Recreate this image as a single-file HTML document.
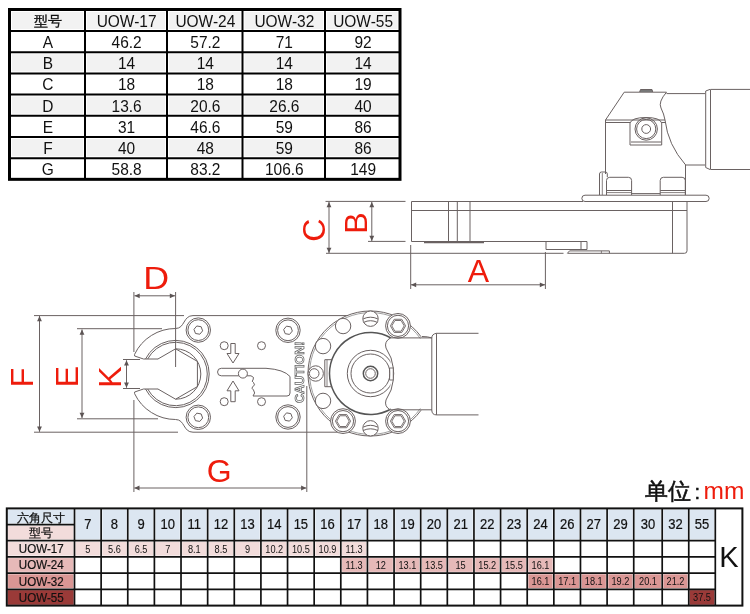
<!DOCTYPE html>
<html><head><meta charset="utf-8"><style>
html,body{margin:0;padding:0;background:#fff;width:750px;height:614px;overflow:hidden}
svg{display:block;will-change:transform}
text{font-family:"Liberation Sans", sans-serif}
</style></head><body>
<svg width="750" height="614" viewBox="0 0 750 614" fill="#111">
<rect width="750" height="614" fill="#fff"/>
<rect x="12.0" y="12.0" width="385.5" height="17.0" fill="#f2f2f2"/>
<rect x="12.0" y="54.19" width="385.5" height="17.189999999999998" fill="#f2f2f2"/>
<rect x="12.0" y="96.57000000000001" width="385.5" height="17.189999999999998" fill="#f2f2f2"/>
<rect x="12.0" y="138.95" width="385.5" height="17.190000000000026" fill="#f2f2f2"/>
<rect x="83" y="9.5" width="4" height="169.83" fill="#fff"/>
<rect x="165" y="9.5" width="4" height="169.83" fill="#fff"/>
<rect x="240.5" y="9.5" width="4" height="169.83" fill="#fff"/>
<rect x="323" y="9.5" width="4" height="169.83" fill="#fff"/>
<line x1="9.5" y1="31.00" x2="400" y2="31.00" stroke="#000" stroke-width="2"/>
<line x1="9.5" y1="52.19" x2="400" y2="52.19" stroke="#000" stroke-width="2"/>
<line x1="9.5" y1="73.38" x2="400" y2="73.38" stroke="#000" stroke-width="2"/>
<line x1="9.5" y1="94.57" x2="400" y2="94.57" stroke="#000" stroke-width="2"/>
<line x1="9.5" y1="115.76" x2="400" y2="115.76" stroke="#000" stroke-width="2"/>
<line x1="9.5" y1="136.95" x2="400" y2="136.95" stroke="#000" stroke-width="2"/>
<line x1="9.5" y1="158.14" x2="400" y2="158.14" stroke="#000" stroke-width="2"/>
<line x1="85" y1="9.5" x2="85" y2="179.33" stroke="#000" stroke-width="2"/>
<line x1="167" y1="9.5" x2="167" y2="179.33" stroke="#000" stroke-width="2"/>
<line x1="242.5" y1="9.5" x2="242.5" y2="179.33" stroke="#000" stroke-width="2"/>
<line x1="325" y1="9.5" x2="325" y2="179.33" stroke="#000" stroke-width="2"/>
<rect x="9.5" y="9.5" width="390.5" height="169.83" fill="none" stroke="#000" stroke-width="3"/>
<text x="48.05" y="26.2" font-size="14.3" text-anchor="middle" stroke="#111" stroke-width="0.35">型号</text>
<text x="0" y="0" font-size="15.5" text-anchor="middle" transform="translate(126.60,26.75) scale(1,1.12)">UOW-17</text>
<text x="0" y="0" font-size="15.5" text-anchor="middle" transform="translate(205.35,26.75) scale(1,1.12)">UOW-24</text>
<text x="0" y="0" font-size="15.5" text-anchor="middle" transform="translate(284.35,26.75) scale(1,1.12)">UOW-32</text>
<text x="0" y="0" font-size="15.5" text-anchor="middle" transform="translate(363.10,26.75) scale(1,1.12)">UOW-55</text>
<text x="0" y="0" font-size="15.5" text-anchor="middle" transform="translate(47.85,48.09) scale(1,1.12)">A</text>
<text x="0" y="0" font-size="15.5" text-anchor="middle" transform="translate(126.60,48.09) scale(1,1.12)">46.2</text>
<text x="0" y="0" font-size="15.5" text-anchor="middle" transform="translate(205.35,48.09) scale(1,1.12)">57.2</text>
<text x="0" y="0" font-size="15.5" text-anchor="middle" transform="translate(284.35,48.09) scale(1,1.12)">71</text>
<text x="0" y="0" font-size="15.5" text-anchor="middle" transform="translate(363.10,48.09) scale(1,1.12)">92</text>
<text x="0" y="0" font-size="15.5" text-anchor="middle" transform="translate(47.85,69.28) scale(1,1.12)">B</text>
<text x="0" y="0" font-size="15.5" text-anchor="middle" transform="translate(126.60,69.28) scale(1,1.12)">14</text>
<text x="0" y="0" font-size="15.5" text-anchor="middle" transform="translate(205.35,69.28) scale(1,1.12)">14</text>
<text x="0" y="0" font-size="15.5" text-anchor="middle" transform="translate(284.35,69.28) scale(1,1.12)">14</text>
<text x="0" y="0" font-size="15.5" text-anchor="middle" transform="translate(363.10,69.28) scale(1,1.12)">14</text>
<text x="0" y="0" font-size="15.5" text-anchor="middle" transform="translate(47.85,90.47) scale(1,1.12)">C</text>
<text x="0" y="0" font-size="15.5" text-anchor="middle" transform="translate(126.60,90.47) scale(1,1.12)">18</text>
<text x="0" y="0" font-size="15.5" text-anchor="middle" transform="translate(205.35,90.47) scale(1,1.12)">18</text>
<text x="0" y="0" font-size="15.5" text-anchor="middle" transform="translate(284.35,90.47) scale(1,1.12)">18</text>
<text x="0" y="0" font-size="15.5" text-anchor="middle" transform="translate(363.10,90.47) scale(1,1.12)">19</text>
<text x="0" y="0" font-size="15.5" text-anchor="middle" transform="translate(47.85,111.67) scale(1,1.12)">D</text>
<text x="0" y="0" font-size="15.5" text-anchor="middle" transform="translate(126.60,111.67) scale(1,1.12)">13.6</text>
<text x="0" y="0" font-size="15.5" text-anchor="middle" transform="translate(205.35,111.67) scale(1,1.12)">20.6</text>
<text x="0" y="0" font-size="15.5" text-anchor="middle" transform="translate(284.35,111.67) scale(1,1.12)">26.6</text>
<text x="0" y="0" font-size="15.5" text-anchor="middle" transform="translate(363.10,111.67) scale(1,1.12)">40</text>
<text x="0" y="0" font-size="15.5" text-anchor="middle" transform="translate(47.85,132.85) scale(1,1.12)">E</text>
<text x="0" y="0" font-size="15.5" text-anchor="middle" transform="translate(126.60,132.85) scale(1,1.12)">31</text>
<text x="0" y="0" font-size="15.5" text-anchor="middle" transform="translate(205.35,132.85) scale(1,1.12)">46.6</text>
<text x="0" y="0" font-size="15.5" text-anchor="middle" transform="translate(284.35,132.85) scale(1,1.12)">59</text>
<text x="0" y="0" font-size="15.5" text-anchor="middle" transform="translate(363.10,132.85) scale(1,1.12)">86</text>
<text x="0" y="0" font-size="15.5" text-anchor="middle" transform="translate(47.85,154.05) scale(1,1.12)">F</text>
<text x="0" y="0" font-size="15.5" text-anchor="middle" transform="translate(126.60,154.05) scale(1,1.12)">40</text>
<text x="0" y="0" font-size="15.5" text-anchor="middle" transform="translate(205.35,154.05) scale(1,1.12)">48</text>
<text x="0" y="0" font-size="15.5" text-anchor="middle" transform="translate(284.35,154.05) scale(1,1.12)">59</text>
<text x="0" y="0" font-size="15.5" text-anchor="middle" transform="translate(363.10,154.05) scale(1,1.12)">86</text>
<text x="0" y="0" font-size="15.5" text-anchor="middle" transform="translate(47.85,175.24) scale(1,1.12)">G</text>
<text x="0" y="0" font-size="15.5" text-anchor="middle" transform="translate(126.60,175.24) scale(1,1.12)">58.8</text>
<text x="0" y="0" font-size="15.5" text-anchor="middle" transform="translate(205.35,175.24) scale(1,1.12)">83.2</text>
<text x="0" y="0" font-size="15.5" text-anchor="middle" transform="translate(284.35,175.24) scale(1,1.12)">106.6</text>
<text x="0" y="0" font-size="15.5" text-anchor="middle" transform="translate(363.10,175.24) scale(1,1.12)">149</text>
<rect x="7.60" y="509.20" width="66.10" height="14.70" fill="#f6f8fb"/>
<rect x="8.10" y="509.70" width="65.10" height="13.70" fill="#dce6f1"/>
<rect x="7.60" y="525.50" width="66.10" height="14.30" fill="#fbf6f6"/>
<rect x="8.10" y="526.00" width="65.10" height="13.30" fill="#f2dcdb"/>
<rect x="7.60" y="541.40" width="66.10" height="14.60" fill="#fbf6f6"/>
<rect x="8.10" y="541.90" width="65.10" height="13.60" fill="#f2dcdb"/>
<rect x="7.60" y="557.60" width="66.10" height="14.70" fill="#f8eded"/>
<rect x="8.10" y="558.10" width="65.10" height="13.70" fill="#e6b9b8"/>
<rect x="7.60" y="573.90" width="66.10" height="14.60" fill="#f5e4e4"/>
<rect x="8.10" y="574.40" width="65.10" height="13.60" fill="#da9694"/>
<rect x="7.60" y="590.10" width="66.10" height="14.70" fill="#9a3a38"/>
<rect x="75.30" y="509.20" width="25.03" height="30.60" fill="#f6f8fb"/>
<rect x="75.80" y="509.70" width="24.03" height="29.60" fill="#dce6f1"/>
<rect x="101.93" y="509.20" width="25.03" height="30.60" fill="#f6f8fb"/>
<rect x="102.43" y="509.70" width="24.03" height="29.60" fill="#dce6f1"/>
<rect x="128.56" y="509.20" width="25.03" height="30.60" fill="#f6f8fb"/>
<rect x="129.06" y="509.70" width="24.03" height="29.60" fill="#dce6f1"/>
<rect x="155.19" y="509.20" width="25.03" height="30.60" fill="#f6f8fb"/>
<rect x="155.69" y="509.70" width="24.03" height="29.60" fill="#dce6f1"/>
<rect x="181.82" y="509.20" width="25.03" height="30.60" fill="#f6f8fb"/>
<rect x="182.32" y="509.70" width="24.03" height="29.60" fill="#dce6f1"/>
<rect x="208.45" y="509.20" width="25.03" height="30.60" fill="#f6f8fb"/>
<rect x="208.95" y="509.70" width="24.03" height="29.60" fill="#dce6f1"/>
<rect x="235.08" y="509.20" width="25.03" height="30.60" fill="#f6f8fb"/>
<rect x="235.58" y="509.70" width="24.03" height="29.60" fill="#dce6f1"/>
<rect x="261.71" y="509.20" width="25.03" height="30.60" fill="#f6f8fb"/>
<rect x="262.21" y="509.70" width="24.03" height="29.60" fill="#dce6f1"/>
<rect x="288.34" y="509.20" width="25.03" height="30.60" fill="#f6f8fb"/>
<rect x="288.84" y="509.70" width="24.03" height="29.60" fill="#dce6f1"/>
<rect x="314.97" y="509.20" width="25.03" height="30.60" fill="#f6f8fb"/>
<rect x="315.47" y="509.70" width="24.03" height="29.60" fill="#dce6f1"/>
<rect x="341.60" y="509.20" width="25.03" height="30.60" fill="#f6f8fb"/>
<rect x="342.10" y="509.70" width="24.03" height="29.60" fill="#dce6f1"/>
<rect x="368.23" y="509.20" width="25.03" height="30.60" fill="#f6f8fb"/>
<rect x="368.73" y="509.70" width="24.03" height="29.60" fill="#dce6f1"/>
<rect x="394.86" y="509.20" width="25.03" height="30.60" fill="#f6f8fb"/>
<rect x="395.36" y="509.70" width="24.03" height="29.60" fill="#dce6f1"/>
<rect x="421.49" y="509.20" width="25.03" height="30.60" fill="#f6f8fb"/>
<rect x="421.99" y="509.70" width="24.03" height="29.60" fill="#dce6f1"/>
<rect x="448.12" y="509.20" width="25.03" height="30.60" fill="#f6f8fb"/>
<rect x="448.62" y="509.70" width="24.03" height="29.60" fill="#dce6f1"/>
<rect x="474.75" y="509.20" width="25.03" height="30.60" fill="#f6f8fb"/>
<rect x="475.25" y="509.70" width="24.03" height="29.60" fill="#dce6f1"/>
<rect x="501.38" y="509.20" width="25.03" height="30.60" fill="#f6f8fb"/>
<rect x="501.88" y="509.70" width="24.03" height="29.60" fill="#dce6f1"/>
<rect x="528.01" y="509.20" width="25.03" height="30.60" fill="#f6f8fb"/>
<rect x="528.51" y="509.70" width="24.03" height="29.60" fill="#dce6f1"/>
<rect x="554.64" y="509.20" width="25.03" height="30.60" fill="#f6f8fb"/>
<rect x="555.14" y="509.70" width="24.03" height="29.60" fill="#dce6f1"/>
<rect x="581.27" y="509.20" width="25.03" height="30.60" fill="#f6f8fb"/>
<rect x="581.77" y="509.70" width="24.03" height="29.60" fill="#dce6f1"/>
<rect x="607.90" y="509.20" width="25.03" height="30.60" fill="#f6f8fb"/>
<rect x="608.40" y="509.70" width="24.03" height="29.60" fill="#dce6f1"/>
<rect x="634.53" y="509.20" width="26.87" height="30.60" fill="#f6f8fb"/>
<rect x="635.03" y="509.70" width="25.87" height="29.60" fill="#dce6f1"/>
<rect x="663.00" y="509.20" width="24.95" height="30.60" fill="#f6f8fb"/>
<rect x="663.50" y="509.70" width="23.95" height="29.60" fill="#dce6f1"/>
<rect x="689.55" y="509.20" width="24.95" height="30.60" fill="#f6f8fb"/>
<rect x="690.05" y="509.70" width="23.95" height="29.60" fill="#dce6f1"/>
<rect x="75.30" y="541.40" width="25.03" height="14.60" fill="#fbf6f6"/>
<rect x="75.80" y="541.90" width="24.03" height="13.60" fill="#f2dcdb"/>
<rect x="101.93" y="541.40" width="25.03" height="14.60" fill="#fbf6f6"/>
<rect x="102.43" y="541.90" width="24.03" height="13.60" fill="#f2dcdb"/>
<rect x="128.56" y="541.40" width="25.03" height="14.60" fill="#fbf6f6"/>
<rect x="129.06" y="541.90" width="24.03" height="13.60" fill="#f2dcdb"/>
<rect x="155.19" y="541.40" width="25.03" height="14.60" fill="#fbf6f6"/>
<rect x="155.69" y="541.90" width="24.03" height="13.60" fill="#f2dcdb"/>
<rect x="181.82" y="541.40" width="25.03" height="14.60" fill="#fbf6f6"/>
<rect x="182.32" y="541.90" width="24.03" height="13.60" fill="#f2dcdb"/>
<rect x="208.45" y="541.40" width="25.03" height="14.60" fill="#fbf6f6"/>
<rect x="208.95" y="541.90" width="24.03" height="13.60" fill="#f2dcdb"/>
<rect x="235.08" y="541.40" width="25.03" height="14.60" fill="#fbf6f6"/>
<rect x="235.58" y="541.90" width="24.03" height="13.60" fill="#f2dcdb"/>
<rect x="261.71" y="541.40" width="25.03" height="14.60" fill="#fbf6f6"/>
<rect x="262.21" y="541.90" width="24.03" height="13.60" fill="#f2dcdb"/>
<rect x="288.34" y="541.40" width="25.03" height="14.60" fill="#fbf6f6"/>
<rect x="288.84" y="541.90" width="24.03" height="13.60" fill="#f2dcdb"/>
<rect x="314.97" y="541.40" width="25.03" height="14.60" fill="#fbf6f6"/>
<rect x="315.47" y="541.90" width="24.03" height="13.60" fill="#f2dcdb"/>
<rect x="341.60" y="541.40" width="25.03" height="14.60" fill="#fbf6f6"/>
<rect x="342.10" y="541.90" width="24.03" height="13.60" fill="#f2dcdb"/>
<rect x="341.60" y="557.60" width="25.03" height="14.70" fill="#f8eded"/>
<rect x="342.10" y="558.10" width="24.03" height="13.70" fill="#e6b9b8"/>
<rect x="368.23" y="557.60" width="25.03" height="14.70" fill="#f8eded"/>
<rect x="368.73" y="558.10" width="24.03" height="13.70" fill="#e6b9b8"/>
<rect x="394.86" y="557.60" width="25.03" height="14.70" fill="#f8eded"/>
<rect x="395.36" y="558.10" width="24.03" height="13.70" fill="#e6b9b8"/>
<rect x="421.49" y="557.60" width="25.03" height="14.70" fill="#f8eded"/>
<rect x="421.99" y="558.10" width="24.03" height="13.70" fill="#e6b9b8"/>
<rect x="448.12" y="557.60" width="25.03" height="14.70" fill="#f8eded"/>
<rect x="448.62" y="558.10" width="24.03" height="13.70" fill="#e6b9b8"/>
<rect x="474.75" y="557.60" width="25.03" height="14.70" fill="#f8eded"/>
<rect x="475.25" y="558.10" width="24.03" height="13.70" fill="#e6b9b8"/>
<rect x="501.38" y="557.60" width="25.03" height="14.70" fill="#f8eded"/>
<rect x="501.88" y="558.10" width="24.03" height="13.70" fill="#e6b9b8"/>
<rect x="528.01" y="557.60" width="25.03" height="14.70" fill="#f8eded"/>
<rect x="528.51" y="558.10" width="24.03" height="13.70" fill="#e6b9b8"/>
<rect x="528.01" y="573.90" width="25.03" height="14.60" fill="#f5e4e4"/>
<rect x="528.51" y="574.40" width="24.03" height="13.60" fill="#da9694"/>
<rect x="554.64" y="573.90" width="25.03" height="14.60" fill="#f5e4e4"/>
<rect x="555.14" y="574.40" width="24.03" height="13.60" fill="#da9694"/>
<rect x="581.27" y="573.90" width="25.03" height="14.60" fill="#f5e4e4"/>
<rect x="581.77" y="574.40" width="24.03" height="13.60" fill="#da9694"/>
<rect x="607.90" y="573.90" width="25.03" height="14.60" fill="#f5e4e4"/>
<rect x="608.40" y="574.40" width="24.03" height="13.60" fill="#da9694"/>
<rect x="634.53" y="573.90" width="26.87" height="14.60" fill="#f5e4e4"/>
<rect x="635.03" y="574.40" width="25.87" height="13.60" fill="#da9694"/>
<rect x="663.00" y="573.90" width="24.95" height="14.60" fill="#f5e4e4"/>
<rect x="663.50" y="574.40" width="23.95" height="13.60" fill="#da9694"/>
<rect x="689.55" y="590.10" width="24.95" height="14.70" fill="#9a3a38"/>
<line x1="6.8" y1="524.7" x2="74.5" y2="524.7" stroke="#111" stroke-width="1.7"/>
<line x1="6.8" y1="540.6" x2="715.6" y2="540.6" stroke="#111" stroke-width="1.7"/>
<line x1="6.8" y1="556.8" x2="715.6" y2="556.8" stroke="#111" stroke-width="1.7"/>
<line x1="6.8" y1="573.1" x2="715.6" y2="573.1" stroke="#111" stroke-width="1.7"/>
<line x1="6.8" y1="589.3" x2="715.6" y2="589.3" stroke="#111" stroke-width="1.7"/>
<line x1="74.50" y1="508.4" x2="74.50" y2="605.6" stroke="#111" stroke-width="1.7"/>
<line x1="101.13" y1="508.4" x2="101.13" y2="605.6" stroke="#111" stroke-width="1.7"/>
<line x1="127.76" y1="508.4" x2="127.76" y2="605.6" stroke="#111" stroke-width="1.7"/>
<line x1="154.39" y1="508.4" x2="154.39" y2="605.6" stroke="#111" stroke-width="1.7"/>
<line x1="181.02" y1="508.4" x2="181.02" y2="605.6" stroke="#111" stroke-width="1.7"/>
<line x1="207.65" y1="508.4" x2="207.65" y2="605.6" stroke="#111" stroke-width="1.7"/>
<line x1="234.28" y1="508.4" x2="234.28" y2="605.6" stroke="#111" stroke-width="1.7"/>
<line x1="260.91" y1="508.4" x2="260.91" y2="605.6" stroke="#111" stroke-width="1.7"/>
<line x1="287.54" y1="508.4" x2="287.54" y2="605.6" stroke="#111" stroke-width="1.7"/>
<line x1="314.17" y1="508.4" x2="314.17" y2="605.6" stroke="#111" stroke-width="1.7"/>
<line x1="340.80" y1="508.4" x2="340.80" y2="605.6" stroke="#111" stroke-width="1.7"/>
<line x1="367.43" y1="508.4" x2="367.43" y2="605.6" stroke="#111" stroke-width="1.7"/>
<line x1="394.06" y1="508.4" x2="394.06" y2="605.6" stroke="#111" stroke-width="1.7"/>
<line x1="420.69" y1="508.4" x2="420.69" y2="605.6" stroke="#111" stroke-width="1.7"/>
<line x1="447.32" y1="508.4" x2="447.32" y2="605.6" stroke="#111" stroke-width="1.7"/>
<line x1="473.95" y1="508.4" x2="473.95" y2="605.6" stroke="#111" stroke-width="1.7"/>
<line x1="500.58" y1="508.4" x2="500.58" y2="605.6" stroke="#111" stroke-width="1.7"/>
<line x1="527.21" y1="508.4" x2="527.21" y2="605.6" stroke="#111" stroke-width="1.7"/>
<line x1="553.84" y1="508.4" x2="553.84" y2="605.6" stroke="#111" stroke-width="1.7"/>
<line x1="580.47" y1="508.4" x2="580.47" y2="605.6" stroke="#111" stroke-width="1.7"/>
<line x1="607.10" y1="508.4" x2="607.10" y2="605.6" stroke="#111" stroke-width="1.7"/>
<line x1="633.73" y1="508.4" x2="633.73" y2="605.6" stroke="#111" stroke-width="1.7"/>
<line x1="662.20" y1="508.4" x2="662.20" y2="605.6" stroke="#111" stroke-width="1.7"/>
<line x1="688.75" y1="508.4" x2="688.75" y2="605.6" stroke="#111" stroke-width="1.7"/>
<line x1="715.30" y1="508.4" x2="715.30" y2="605.6" stroke="#111" stroke-width="1.7"/>
<rect x="6.8" y="508.4" width="735.60" height="97.20" fill="none" stroke="#111" stroke-width="2.0"/>
<text x="40.65" y="521.50" font-size="11.5" text-anchor="middle" stroke="#111" stroke-width="0.25">六角尺寸</text>
<text x="40.65" y="537.40" font-size="11.5" text-anchor="middle" stroke="#111" stroke-width="0.25">型号</text>
<text x="0" y="0" font-size="11.6" text-anchor="middle" stroke="#111" stroke-width="0.2" transform="translate(41.25,553.00) scale(1,1.08)">UOW-17</text>
<text x="0" y="0" font-size="11.6" text-anchor="middle" stroke="#111" stroke-width="0.2" transform="translate(41.25,569.25) scale(1,1.08)">UOW-24</text>
<text x="0" y="0" font-size="11.6" text-anchor="middle" stroke="#111" stroke-width="0.2" transform="translate(41.25,585.50) scale(1,1.08)">UOW-32</text>
<text x="0" y="0" font-size="11.6" text-anchor="middle" stroke="#111" stroke-width="0.2" transform="translate(41.25,601.75) scale(1,1.08)">UOW-55</text>
<text x="0" y="0" font-size="13" text-anchor="middle" stroke="#111" stroke-width="0.2" transform="translate(87.81,529.40) scale(1,1.08)">7</text>
<text x="0" y="0" font-size="13" text-anchor="middle" stroke="#111" stroke-width="0.2" transform="translate(114.44,529.40) scale(1,1.08)">8</text>
<text x="0" y="0" font-size="13" text-anchor="middle" stroke="#111" stroke-width="0.2" transform="translate(141.07,529.40) scale(1,1.08)">9</text>
<text x="0" y="0" font-size="13" text-anchor="middle" stroke="#111" stroke-width="0.2" transform="translate(167.70,529.40) scale(1,1.08)">10</text>
<text x="0" y="0" font-size="13" text-anchor="middle" stroke="#111" stroke-width="0.2" transform="translate(194.33,529.40) scale(1,1.08)">11</text>
<text x="0" y="0" font-size="13" text-anchor="middle" stroke="#111" stroke-width="0.2" transform="translate(220.97,529.40) scale(1,1.08)">12</text>
<text x="0" y="0" font-size="13" text-anchor="middle" stroke="#111" stroke-width="0.2" transform="translate(247.59,529.40) scale(1,1.08)">13</text>
<text x="0" y="0" font-size="13" text-anchor="middle" stroke="#111" stroke-width="0.2" transform="translate(274.22,529.40) scale(1,1.08)">14</text>
<text x="0" y="0" font-size="13" text-anchor="middle" stroke="#111" stroke-width="0.2" transform="translate(300.85,529.40) scale(1,1.08)">15</text>
<text x="0" y="0" font-size="13" text-anchor="middle" stroke="#111" stroke-width="0.2" transform="translate(327.49,529.40) scale(1,1.08)">16</text>
<text x="0" y="0" font-size="13" text-anchor="middle" stroke="#111" stroke-width="0.2" transform="translate(354.12,529.40) scale(1,1.08)">17</text>
<text x="0" y="0" font-size="13" text-anchor="middle" stroke="#111" stroke-width="0.2" transform="translate(380.75,529.40) scale(1,1.08)">18</text>
<text x="0" y="0" font-size="13" text-anchor="middle" stroke="#111" stroke-width="0.2" transform="translate(407.38,529.40) scale(1,1.08)">19</text>
<text x="0" y="0" font-size="13" text-anchor="middle" stroke="#111" stroke-width="0.2" transform="translate(434.00,529.40) scale(1,1.08)">20</text>
<text x="0" y="0" font-size="13" text-anchor="middle" stroke="#111" stroke-width="0.2" transform="translate(460.63,529.40) scale(1,1.08)">21</text>
<text x="0" y="0" font-size="13" text-anchor="middle" stroke="#111" stroke-width="0.2" transform="translate(487.26,529.40) scale(1,1.08)">22</text>
<text x="0" y="0" font-size="13" text-anchor="middle" stroke="#111" stroke-width="0.2" transform="translate(513.89,529.40) scale(1,1.08)">23</text>
<text x="0" y="0" font-size="13" text-anchor="middle" stroke="#111" stroke-width="0.2" transform="translate(540.52,529.40) scale(1,1.08)">24</text>
<text x="0" y="0" font-size="13" text-anchor="middle" stroke="#111" stroke-width="0.2" transform="translate(567.15,529.40) scale(1,1.08)">26</text>
<text x="0" y="0" font-size="13" text-anchor="middle" stroke="#111" stroke-width="0.2" transform="translate(593.79,529.40) scale(1,1.08)">27</text>
<text x="0" y="0" font-size="13" text-anchor="middle" stroke="#111" stroke-width="0.2" transform="translate(620.41,529.40) scale(1,1.08)">29</text>
<text x="0" y="0" font-size="13" text-anchor="middle" stroke="#111" stroke-width="0.2" transform="translate(647.97,529.40) scale(1,1.08)">30</text>
<text x="0" y="0" font-size="13" text-anchor="middle" stroke="#111" stroke-width="0.2" transform="translate(675.48,529.40) scale(1,1.08)">32</text>
<text x="0" y="0" font-size="13" text-anchor="middle" stroke="#111" stroke-width="0.2" transform="translate(702.02,529.40) scale(1,1.08)">55</text>
<text x="0" y="0" font-size="9.2" text-anchor="middle" transform="translate(87.81,552.70) scale(1,1.15)">5</text>
<text x="0" y="0" font-size="9.2" text-anchor="middle" transform="translate(114.44,552.70) scale(1,1.15)">5.6</text>
<text x="0" y="0" font-size="9.2" text-anchor="middle" transform="translate(141.07,552.70) scale(1,1.15)">6.5</text>
<text x="0" y="0" font-size="9.2" text-anchor="middle" transform="translate(167.70,552.70) scale(1,1.15)">7</text>
<text x="0" y="0" font-size="9.2" text-anchor="middle" transform="translate(194.33,552.70) scale(1,1.15)">8.1</text>
<text x="0" y="0" font-size="9.2" text-anchor="middle" transform="translate(220.97,552.70) scale(1,1.15)">8.5</text>
<text x="0" y="0" font-size="9.2" text-anchor="middle" transform="translate(247.59,552.70) scale(1,1.15)">9</text>
<text x="0" y="0" font-size="9.2" text-anchor="middle" transform="translate(274.22,552.70) scale(1,1.15)">10.2</text>
<text x="0" y="0" font-size="9.2" text-anchor="middle" transform="translate(300.85,552.70) scale(1,1.15)">10.5</text>
<text x="0" y="0" font-size="9.2" text-anchor="middle" transform="translate(327.49,552.70) scale(1,1.15)">10.9</text>
<text x="0" y="0" font-size="9.2" text-anchor="middle" transform="translate(354.12,552.70) scale(1,1.15)">11.3</text>
<text x="0" y="0" font-size="9.2" text-anchor="middle" transform="translate(354.12,568.95) scale(1,1.15)">11.3</text>
<text x="0" y="0" font-size="9.2" text-anchor="middle" transform="translate(380.75,568.95) scale(1,1.15)">12</text>
<text x="0" y="0" font-size="9.2" text-anchor="middle" transform="translate(407.38,568.95) scale(1,1.15)">13.1</text>
<text x="0" y="0" font-size="9.2" text-anchor="middle" transform="translate(434.00,568.95) scale(1,1.15)">13.5</text>
<text x="0" y="0" font-size="9.2" text-anchor="middle" transform="translate(460.63,568.95) scale(1,1.15)">15</text>
<text x="0" y="0" font-size="9.2" text-anchor="middle" transform="translate(487.26,568.95) scale(1,1.15)">15.2</text>
<text x="0" y="0" font-size="9.2" text-anchor="middle" transform="translate(513.89,568.95) scale(1,1.15)">15.5</text>
<text x="0" y="0" font-size="9.2" text-anchor="middle" transform="translate(540.52,568.95) scale(1,1.15)">16.1</text>
<text x="0" y="0" font-size="9.2" text-anchor="middle" transform="translate(540.52,585.20) scale(1,1.15)">16.1</text>
<text x="0" y="0" font-size="9.2" text-anchor="middle" transform="translate(567.15,585.20) scale(1,1.15)">17.1</text>
<text x="0" y="0" font-size="9.2" text-anchor="middle" transform="translate(593.79,585.20) scale(1,1.15)">18.1</text>
<text x="0" y="0" font-size="9.2" text-anchor="middle" transform="translate(620.41,585.20) scale(1,1.15)">19.2</text>
<text x="0" y="0" font-size="9.2" text-anchor="middle" transform="translate(647.97,585.20) scale(1,1.15)">20.1</text>
<text x="0" y="0" font-size="9.2" text-anchor="middle" transform="translate(675.48,585.20) scale(1,1.15)">21.2</text>
<text x="0" y="0" font-size="9.2" text-anchor="middle" transform="translate(702.02,601.45) scale(1,1.15)">37.5</text>
<text x="729.00" y="566.8" font-size="29" text-anchor="middle">K</text>
<text x="645" y="499" font-size="23" stroke="#111" stroke-width="0.55">单位</text>
<text x="694.5" y="498.5" font-size="20" stroke="#111" stroke-width="0.5">:</text>
<text x="703.5" y="498.5" font-size="24.5" fill="#ee1c0c">mm</text>
<line x1="325.5" y1="201.4" x2="405.5" y2="201.4" stroke="#6a6262" stroke-width="1"/>
<line x1="329" y1="202" x2="329" y2="253" stroke="#6a6262" stroke-width="1"/>
<path d="M329,202 L331.40,207.20 L326.60,207.20 Z" fill="#5c5454"/>
<path d="M329,253 L326.60,247.80 L331.40,247.80 Z" fill="#5c5454"/>
<line x1="326" y1="253.3" x2="563.5" y2="253.3" stroke="#6a6262" stroke-width="1"/>
<line x1="371.8" y1="202" x2="371.8" y2="241" stroke="#6a6262" stroke-width="1"/>
<path d="M371.8,202 L374.20,207.20 L369.40,207.20 Z" fill="#5c5454"/>
<path d="M371.8,241 L369.40,235.80 L374.20,235.80 Z" fill="#5c5454"/>
<line x1="368" y1="241.4" x2="405.5" y2="241.4" stroke="#6a6262" stroke-width="1"/>
<line x1="410.7" y1="245" x2="410.7" y2="289" stroke="#6a6262" stroke-width="1"/>
<line x1="545.4" y1="252" x2="545.4" y2="289" stroke="#6a6262" stroke-width="1"/>
<line x1="411" y1="284.8" x2="545" y2="284.8" stroke="#6a6262" stroke-width="1"/>
<path d="M411,284.8 L416.20,282.40 L416.20,287.20 Z" fill="#5c5454"/>
<path d="M545,284.8 L539.80,287.20 L539.80,282.40 Z" fill="#5c5454"/>
<text x="0" y="0" font-size="32" fill="#ee1c0c" text-anchor="middle" transform="translate(325.4,230.1) rotate(-90)">C</text>
<text x="0" y="0" font-size="32" fill="#ee1c0c" text-anchor="middle" transform="translate(366.7,223) rotate(-90)">B</text>
<text x="478.5" y="282.4" font-size="32" fill="#ee1c0c" text-anchor="middle">A</text>
<path d="M411.5,241.5 L411.5,201.5 L583,201.5" stroke="#6a6262" stroke-width="1" fill="none"/>
<line x1="411.5" y1="210.5" x2="687" y2="210.5" stroke="#6a6262" stroke-width="1"/>
<line x1="448.5" y1="201.5" x2="448.5" y2="241.5" stroke="#6a6262" stroke-width="1"/>
<line x1="457.3" y1="201.5" x2="457.3" y2="241.5" stroke="#6a6262" stroke-width="1"/>
<line x1="470" y1="201.5" x2="470" y2="241.5" stroke="#6a6262" stroke-width="1"/>
<line x1="411.5" y1="241.5" x2="587" y2="241.5" stroke="#6a6262" stroke-width="1"/>
<line x1="424" y1="242.6" x2="484" y2="242.6" stroke="#6a6262" stroke-width="1.5"/>
<path d="M546,241.5 L546,249.5 L587,249.5 L587,241.5" stroke="#6a6262" stroke-width="1" fill="none"/>
<line x1="581" y1="241.5" x2="581" y2="249.5" stroke="#6a6262" stroke-width="1"/>
<path d="M567.5,253.3 L684.5,253.3 Q687,253.3 687,250.8 L687,201.5" stroke="#6a6262" stroke-width="1" fill="none"/>
<path d="M567.4,253.3 L569.5,250.9 L609.4,250.9 L609.4,253.3" stroke="#6a6262" stroke-width="1" fill="none"/>
<line x1="601.4" y1="250.9" x2="601.4" y2="253.3" stroke="#6a6262" stroke-width="0.8"/>
<line x1="672.5" y1="201.5" x2="672.5" y2="253.3" stroke="#6a6262" stroke-width="1"/>
<path d="M585,195.2 L706,195.2 A3,3 0 0 1 706,201.5 L585,201.5 A3,3 0 0 1 585,195.2 Z" stroke="#6a6262" stroke-width="1" fill="none"/>
<path d="M606.5,195 L606.5,180.5 Q606.5,177.3 609.7,177.3 L628.4,177.3 Q631.6,177.3 631.6,180.5 L631.6,195" stroke="#6a6262" stroke-width="1" fill="none"/>
<line x1="606.5" y1="190.5" x2="631.6" y2="190.5" stroke="#6a6262" stroke-width="1"/>
<line x1="606.5" y1="192.6" x2="631.6" y2="192.6" stroke="#6a6262" stroke-width="0.8"/>
<path d="M660.2,195 L660.2,180.5 Q660.2,177.3 663.4000000000001,177.3 L682.0999999999999,177.3 Q685.3,177.3 685.3,180.5 L685.3,195" stroke="#6a6262" stroke-width="1" fill="none"/>
<line x1="660.2" y1="190.5" x2="685.3" y2="190.5" stroke="#6a6262" stroke-width="1"/>
<line x1="660.2" y1="192.6" x2="685.3" y2="192.6" stroke="#6a6262" stroke-width="0.8"/>
<line x1="631.6" y1="193.5" x2="660.2" y2="193.5" stroke="#6a6262" stroke-width="0.9"/>
<path d="M599.5,195 L599.5,174 Q599.5,172 601.5,172 L605.5,172 Q607.3,172 607.3,174 L607.3,177" stroke="#6a6262" stroke-width="1" fill="none"/>
<line x1="602.3" y1="173" x2="602.3" y2="195" stroke="#6a6262" stroke-width="0.8"/>
<path d="M605.5,174 L605.5,120 L624.2,92.2 L666.5,92.2 Q658,102 661,108 Q664,114 665,120 Q668,145 685.5,164.8 L685.5,195" stroke="#6a6262" stroke-width="1" fill="none"/>
<line x1="605.5" y1="120" x2="665" y2="120" stroke="#6a6262" stroke-width="1"/>
<line x1="605.5" y1="122.5" x2="630" y2="122.5" stroke="#6a6262" stroke-width="1"/>
<line x1="661.7" y1="122.5" x2="665" y2="122.5" stroke="#6a6262" stroke-width="1"/>
<path d="M639.7,92 L640.5,89.5 L652,89.5 L652.7,92" stroke="#6a6262" stroke-width="1" fill="#777"/>
<path d="M630,145 L630,123 Q632,117.5 646,117.5 Q660,117.5 661.7,123 L661.7,145 Z" stroke="#6a6262" stroke-width="1" fill="none"/>
<line x1="631" y1="142" x2="661" y2="142" stroke="#6a6262" stroke-width="1"/>
<circle cx="646.2" cy="129" r="11.2" stroke="#6a6262" stroke-width="1" fill="none"/>
<circle cx="646.2" cy="129" r="9.6" stroke="#6a6262" stroke-width="1" fill="none"/>
<circle cx="646.2" cy="129" r="4.4" stroke="#6a6262" stroke-width="1" fill="none"/>
<line x1="666.5" y1="93.6" x2="705" y2="93.6" stroke="#6a6262" stroke-width="1"/>
<line x1="685" y1="165" x2="705" y2="165" stroke="#6a6262" stroke-width="1"/>
<path d="M710,89.4 L705.7,91 L705.7,167.5 L710,169.5" stroke="#6a6262" stroke-width="1" fill="none"/>
<path d="M750,89.4 L710.5,89.4 L710.5,169.5 L750,169.5" stroke="#6a6262" stroke-width="1" fill="none"/>
<line x1="34" y1="315.6" x2="184" y2="315.6" stroke="#6a6262" stroke-width="1"/>
<line x1="34" y1="432.2" x2="178" y2="432.2" stroke="#6a6262" stroke-width="1"/>
<line x1="39.5" y1="316" x2="39.5" y2="431.8" stroke="#6a6262" stroke-width="1"/>
<path d="M39.5,316 L41.90,321.20 L37.10,321.20 Z" fill="#5c5454"/>
<path d="M39.5,431.8 L37.10,426.60 L41.90,426.60 Z" fill="#5c5454"/>
<line x1="77" y1="328.7" x2="162" y2="328.7" stroke="#6a6262" stroke-width="1"/>
<line x1="77" y1="418.8" x2="158" y2="418.8" stroke="#6a6262" stroke-width="1"/>
<line x1="82" y1="329.5" x2="82" y2="418" stroke="#6a6262" stroke-width="1"/>
<path d="M82,329.5 L84.40,334.70 L79.60,334.70 Z" fill="#5c5454"/>
<path d="M82,418 L79.60,412.80 L84.40,412.80 Z" fill="#5c5454"/>
<line x1="123" y1="359.5" x2="140" y2="359.5" stroke="#6a6262" stroke-width="1"/>
<line x1="123" y1="388.5" x2="140" y2="388.5" stroke="#6a6262" stroke-width="1"/>
<line x1="126.5" y1="360.3" x2="126.5" y2="387.7" stroke="#6a6262" stroke-width="1"/>
<path d="M126.5,360.3 L128.90,365.50 L124.10,365.50 Z" fill="#5c5454"/>
<path d="M126.5,387.7 L124.10,382.50 L128.90,382.50 Z" fill="#5c5454"/>
<text x="0" y="0" font-size="32" fill="#ee1c0c" text-anchor="middle" transform="translate(33,377.5) rotate(-90)">F</text>
<text x="0" y="0" font-size="32" fill="#ee1c0c" text-anchor="middle" transform="translate(77.6,376.7) rotate(-90)">E</text>
<text x="0" y="0" font-size="32" fill="#ee1c0c" text-anchor="middle" transform="translate(120.5,377.2) rotate(-90)">K</text>
<text x="0" y="0" font-size="32" fill="#ee1c0c" text-anchor="middle" transform="translate(156.1,289.2) scale(1.12,1)">D</text>
<line x1="133.9" y1="292" x2="133.9" y2="352" stroke="#6a6262" stroke-width="1"/>
<line x1="133.9" y1="400" x2="133.9" y2="492" stroke="#6a6262" stroke-width="1"/>
<line x1="175.6" y1="292" x2="175.6" y2="367" stroke="#6a6262" stroke-width="1"/>
<line x1="134.5" y1="295.8" x2="175" y2="295.8" stroke="#6a6262" stroke-width="1"/>
<path d="M134.5,295.8 L139.70,293.40 L139.70,298.20 Z" fill="#5c5454"/>
<path d="M175,295.8 L169.80,298.20 L169.80,293.40 Z" fill="#5c5454"/>
<line x1="306.8" y1="386" x2="306.8" y2="492" stroke="#6a6262" stroke-width="1"/>
<line x1="134.3" y1="488" x2="306.3" y2="488" stroke="#6a6262" stroke-width="1"/>
<path d="M134.3,488 L139.50,485.60 L139.50,490.40 Z" fill="#5c5454"/>
<path d="M306.3,488 L301.10,490.40 L301.10,485.60 Z" fill="#5c5454"/>
<text x="219.2" y="481.7" font-size="32" fill="#ee1c0c" text-anchor="middle">G</text>
<path d="M350,315.6 L193,315.6 C183,315.6 185,328.5 175.6,328.5 A45.5,45.5 0 0 0 134.6,354.3 L134.6,356 L143.5,359 L158,359" stroke="#6a6262" stroke-width="1" fill="none"/>
<path d="M158,389 L143.5,389 L134.6,392 L134.6,393.7 A45.5,45.5 0 0 0 175.6,419.5 C185,419.5 183,432.2 193,432.2 L350,432.2" stroke="#6a6262" stroke-width="1" fill="none"/>
<path d="M145.53,359.00 A33.6,33.6 0 1 1 145.53,389.00" stroke="#6a6262" stroke-width="1" fill="none"/>
<path d="M147.67,359.00 A31.7,31.7 0 1 1 147.67,389.00" stroke="#6a6262" stroke-width="1" fill="none"/>
<path d="M157.93,359.00 L175.60,348.80 L197.42,361.40 L197.42,386.60 L175.60,399.20 L157.93,389.00" stroke="#6a6262" stroke-width="1" fill="none"/>
<path d="M175.60,348.80 A25.20,25.20 0 0 1 175.60,399.20" stroke="#6a6262" stroke-width="1" fill="none"/>
<circle cx="198.3" cy="330.1" r="12.2" stroke="#6a6262" stroke-width="1" fill="none"/>
<circle cx="198.3" cy="330.1" r="10.4" stroke="#6a6262" stroke-width="1" fill="none"/>
<path d="M202.63,330.86 L199.80,334.23 L195.47,333.47 L193.97,329.34 L196.80,325.97 L201.13,326.73 Z" stroke="#6a6262" stroke-width="1" fill="none"/>
<circle cx="288" cy="330.3" r="12.2" stroke="#6a6262" stroke-width="1" fill="none"/>
<circle cx="288" cy="330.3" r="10.4" stroke="#6a6262" stroke-width="1" fill="none"/>
<path d="M292.33,331.06 L289.50,334.43 L285.17,333.67 L283.67,329.54 L286.50,326.17 L290.83,326.93 Z" stroke="#6a6262" stroke-width="1" fill="none"/>
<circle cx="198.3" cy="417.3" r="12.2" stroke="#6a6262" stroke-width="1" fill="none"/>
<circle cx="198.3" cy="417.3" r="10.4" stroke="#6a6262" stroke-width="1" fill="none"/>
<path d="M202.63,418.06 L199.80,421.43 L195.47,420.67 L193.97,416.54 L196.80,413.17 L201.13,413.93 Z" stroke="#6a6262" stroke-width="1" fill="none"/>
<circle cx="288" cy="417" r="12.2" stroke="#6a6262" stroke-width="1" fill="none"/>
<circle cx="288" cy="417" r="10.4" stroke="#6a6262" stroke-width="1" fill="none"/>
<path d="M292.33,417.76 L289.50,421.13 L285.17,420.37 L283.67,416.24 L286.50,412.87 L290.83,413.63 Z" stroke="#6a6262" stroke-width="1" fill="none"/>
<circle cx="224.2" cy="345.7" r="4" stroke="#6a6262" stroke-width="1" fill="none"/>
<circle cx="261.5" cy="345.7" r="4" stroke="#6a6262" stroke-width="1" fill="none"/>
<circle cx="224.2" cy="401.7" r="4" stroke="#6a6262" stroke-width="1" fill="none"/>
<circle cx="261.5" cy="401.7" r="4" stroke="#6a6262" stroke-width="1" fill="none"/>
<path d="M230.8,343.5 L235.2,343.5 L235.2,353.5 L239,353.5 L233,363 L227,353.5 L230.8,353.5 Z" stroke="#6a6262" stroke-width="1" fill="none"/>
<path d="M230.8,401.7 L235.2,401.7 L235.2,390.8 L239,390.8 L233,381 L227,390.8 L230.8,390.8 Z" stroke="#6a6262" stroke-width="1" fill="none"/>
<path d="M239,375.8 L221.3,375.8 A3.75,3.75 0 0 1 221.3,368.3 L266,368.3 Q284,369.5 290,376.5 L290,393 Q290,396 287,396 L253,396" stroke="#6a6262" stroke-width="1" fill="none"/>
<path d="M246,375.8 L251,375.8 Q255,377 253,380 Q251,381 253.5,382.5 Q256,385 252.5,387 Q251,388 253.5,390 Q256,393 253,396" stroke="#6a6262" stroke-width="1" fill="none"/>
<circle cx="242.9" cy="373.6" r="4.5" stroke="#6a6262" stroke-width="1" fill="#fff"/>
<text x="0" y="0" font-size="12.6" font-weight="bold" fill="#fff" stroke="#666" stroke-width="0.75" text-anchor="middle" transform="translate(304.0,372.3) rotate(-90)">CAUTION!</text>
<path d="M421.06,336.76 A62.5,62.5 0 1 0 421.06,410.24" stroke="#6a6262" stroke-width="1" fill="#fff"/>
<path d="M420.39,338.57 A60.9,60.9 0 1 0 420.39,408.43" stroke="#888" stroke-width="0.8" fill="none"/>
<path d="M391.00,337.99 A41,41 0 1 0 391.00,409.01" stroke="#555" stroke-width="1.5" fill="none"/>
<circle cx="370.5" cy="373.5" r="23.2" stroke="#6a6262" stroke-width="1" fill="none"/>
<circle cx="370.5" cy="373.5" r="19.5" stroke="#6a6262" stroke-width="1" fill="none"/>
<circle cx="370.5" cy="373.5" r="7.2" stroke="#555" stroke-width="1.5" fill="none"/>
<circle cx="370.5" cy="373.5" r="4.8" stroke="#6a6262" stroke-width="1" fill="none"/>
<path d="M332,359.7 L324.8,359.7 L324.8,386.7 L332,386.7" stroke="#6a6262" stroke-width="1" fill="none"/>
<line x1="327" y1="359.7" x2="327" y2="386.7" stroke="#6a6262" stroke-width="0.8"/>
<circle cx="323.04" cy="346.1" r="7.7" stroke="#6a6262" stroke-width="1" fill="#fff"/>
<circle cx="343.1" cy="326.04" r="7.7" stroke="#6a6262" stroke-width="1" fill="#fff"/>
<circle cx="370.5" cy="318.7" r="7.7" stroke="#6a6262" stroke-width="1" fill="#fff"/>
<path d="M363.52,322.40 Q370.50,319.00 377.48,322.40" stroke="#6a6262" stroke-width="1" fill="none"/>
<path d="M363.17,318.90 Q370.50,315.50 377.83,318.90" stroke="#6a6262" stroke-width="1" fill="none"/>
<circle cx="315.7" cy="373.5" r="7.7" stroke="#6a6262" stroke-width="1" fill="#fff"/>
<circle cx="314.2" cy="373.5" r="4.8" stroke="#6a6262" stroke-width="1" fill="none"/>
<circle cx="323.04" cy="400.9" r="7.7" stroke="#6a6262" stroke-width="1" fill="#fff"/>
<circle cx="370.5" cy="428.3" r="7.7" stroke="#6a6262" stroke-width="1" fill="#fff"/>
<path d="M363.52,427.00 Q370.50,423.60 377.48,427.00" stroke="#6a6262" stroke-width="1" fill="none"/>
<path d="M363.17,430.50 Q370.50,427.10 377.83,430.50" stroke="#6a6262" stroke-width="1" fill="none"/>
<circle cx="398.0" cy="325.87" r="12.4" stroke="#6a6262" stroke-width="1" fill="#fff"/>
<circle cx="398.0" cy="325.87" r="10.6" stroke="#6a6262" stroke-width="1" fill="none"/>
<path d="M405.60,325.87 L401.80,332.45 L394.20,332.45 L390.40,325.87 L394.20,319.29 L401.80,319.29 Z" stroke="#6a6262" stroke-width="0.9" fill="none"/>
<path d="M404.20,325.87 L401.10,331.24 L394.90,331.24 L391.80,325.87 L394.90,320.50 L401.10,320.50 Z" stroke="#6a6262" stroke-width="0.9" fill="none"/>
<circle cx="398.0" cy="421.13" r="12.4" stroke="#6a6262" stroke-width="1" fill="#fff"/>
<circle cx="398.0" cy="421.13" r="10.6" stroke="#6a6262" stroke-width="1" fill="none"/>
<path d="M405.60,421.13 L401.80,427.71 L394.20,427.71 L390.40,421.13 L394.20,414.55 L401.80,414.55 Z" stroke="#6a6262" stroke-width="0.9" fill="none"/>
<path d="M404.20,421.13 L401.10,426.50 L394.90,426.50 L391.80,421.13 L394.90,415.76 L401.10,415.76 Z" stroke="#6a6262" stroke-width="0.9" fill="none"/>
<circle cx="343.0" cy="421.13" r="12.4" stroke="#6a6262" stroke-width="1" fill="#fff"/>
<circle cx="343.0" cy="421.13" r="10.6" stroke="#6a6262" stroke-width="1" fill="none"/>
<path d="M350.60,421.13 L346.80,427.71 L339.20,427.71 L335.40,421.13 L339.20,414.55 L346.80,414.55 Z" stroke="#6a6262" stroke-width="0.9" fill="none"/>
<path d="M349.20,421.13 L346.10,426.50 L339.90,426.50 L336.80,421.13 L339.90,415.76 L346.10,415.76 Z" stroke="#6a6262" stroke-width="0.9" fill="none"/>
<path d="M390.4,338 Q384,341.5 386,348 Q392.5,358 393.3,368 L393.3,380 Q392.5,390 386,400 Q384,406.5 390.4,410" stroke="#6a6262" stroke-width="1" fill="#fff"/>
<line x1="390.4" y1="337.9" x2="432" y2="337.9" stroke="#6a6262" stroke-width="1"/>
<line x1="390.4" y1="409.8" x2="432" y2="409.8" stroke="#6a6262" stroke-width="1"/>
<path d="M393.3,368 L389.6,368 L389.6,380 L393.3,380" stroke="#6a6262" stroke-width="0.9" fill="none"/>
<path d="M422,336.5 Q428,336.5 431.6,337.9" stroke="#6a6262" stroke-width="1" fill="none"/>
<path d="M436.5,333.3 Q431.8,334 431.8,338 L431.8,410 Q431.8,414.9 436.5,414.9" stroke="#6a6262" stroke-width="1" fill="none"/>
<path d="M478.5,333.3 L436.5,333.3 L436.5,414.9 L478.5,414.9" stroke="#6a6262" stroke-width="1" fill="none"/>
</svg></body></html>
